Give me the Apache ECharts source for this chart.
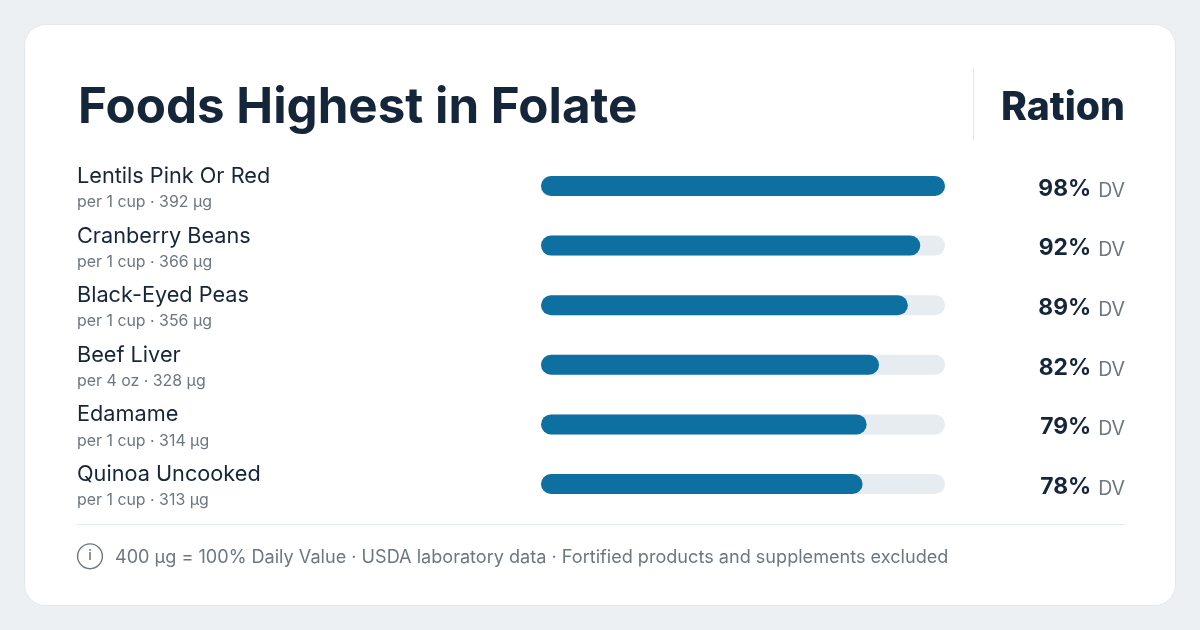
<!DOCTYPE html>
<html><head><meta charset="utf-8">
<style>html,body{margin:0;padding:0;background:#ecf0f3}#c{width:1200px;height:630px}</style>
<script src="https://cdn.jsdelivr.net/npm/echarts@6/dist/echarts.min.js"></script>
</head><body><div id="c"></div>
<script>
const foods = ["Lentils Pink Or Red","Cranberry Beans","Black-Eyed Peas","Beef Liver","Edamame","Quinoa Uncooked"];
const servings = ["per 1 cup · 392 µg","per 1 cup · 366 µg","per 1 cup · 356 µg","per 4 oz · 328 µg","per 1 cup · 314 µg","per 1 cup · 313 µg"];
const dvPercent = [98,92,89,82,79,78];
const titleText = "Foods Highest in Folate";
const sideTitle = "Ration";
const footnote = "400 µg = 100% Daily Value · USDA laboratory data · Fortified products and supplements excluded";
const F = "Inter, sans-serif", DARK = "#16263a", GRAY = "#6c7780", LINE = "#e3e8ed";
const chart = echarts.init(document.getElementById('c'), null, {renderer:'canvas'});
chart.setOption({
  backgroundColor:'#ecf0f3',
  animation:false,
  textStyle:{fontFamily:F},
  grid:{left:541,width:404,top:156.2,height:357.6,containLabel:false},
  xAxis:{type:'value',min:0,max:98,show:false},
  yAxis:[{
    type:'category',inverse:true,data:foods,position:'left',
    axisLine:{show:false},axisTick:{show:false},
    axisLabel:{align:'left',margin:464,padding:[7,0,0,0],
      formatter:(v,i)=>`{n|${v}}\n{s|${servings[i]}}`,
      rich:{n:{fontFamily:F,fontSize:21.7,color:DARK,lineHeight:26,fontWeight:400},
            s:{fontFamily:F,fontSize:15.9,color:GRAY,lineHeight:26}}}
  },{
    type:'category',inverse:true,data:dvPercent,position:'right',
    axisLine:{show:false},axisTick:{show:false},
    axisLabel:{align:'right',margin:180,padding:[6,0,0,0],
      formatter:v=>`{v|${v}%}{d|DV}`,
      rich:{v:{fontFamily:F,fontSize:22.8,fontWeight:700,color:DARK},
            d:{fontFamily:F,fontSize:19.5,color:GRAY,padding:[4,0,0,7]}}}
  }],
  series:[{
    type:'bar',data:dvPercent,barWidth:20,yAxisIndex:0,
    itemStyle:{color:'#0e70a1',borderRadius:10},
    showBackground:true,
    backgroundStyle:{color:'#e7ecf1',borderRadius:10},
    silent:true
  }],
  graphic:[
    {type:'rect',z:-10,shape:{x:24.5,y:24.5,width:1151,height:581,r:21},style:{fill:'#fff',stroke:'#e3e8ed',lineWidth:1}},
    {type:'text',x:78,y:108,style:{text:titleText,font:'700 49.3px '+F,fill:DARK,textVerticalAlign:'middle'}},
    {type:'text',x:1125,y:108,style:{text:sideTitle,font:'800 39.2px '+F,fill:DARK,textAlign:'right',textVerticalAlign:'middle'}},
    {type:'line',shape:{x1:973.5,y1:69,x2:973.5,y2:140},style:{stroke:LINE,lineWidth:1}},
    {type:'line',shape:{x1:77,y1:524.5,x2:1125,y2:524.5},style:{stroke:LINE,lineWidth:1}},
    {type:'circle',shape:{cx:90,cy:556.3,r:12.4},style:{fill:'none',stroke:GRAY,lineWidth:1.4}},
    {type:'text',x:90,y:556,style:{text:'i',font:'500 14px '+F,fill:GRAY,textAlign:'center',textVerticalAlign:'middle'}},
    {type:'text',x:115,y:558,style:{text:footnote,font:'400 18.1px '+F,fill:GRAY,textVerticalAlign:'middle'}}
  ]
});
</script></body></html>
